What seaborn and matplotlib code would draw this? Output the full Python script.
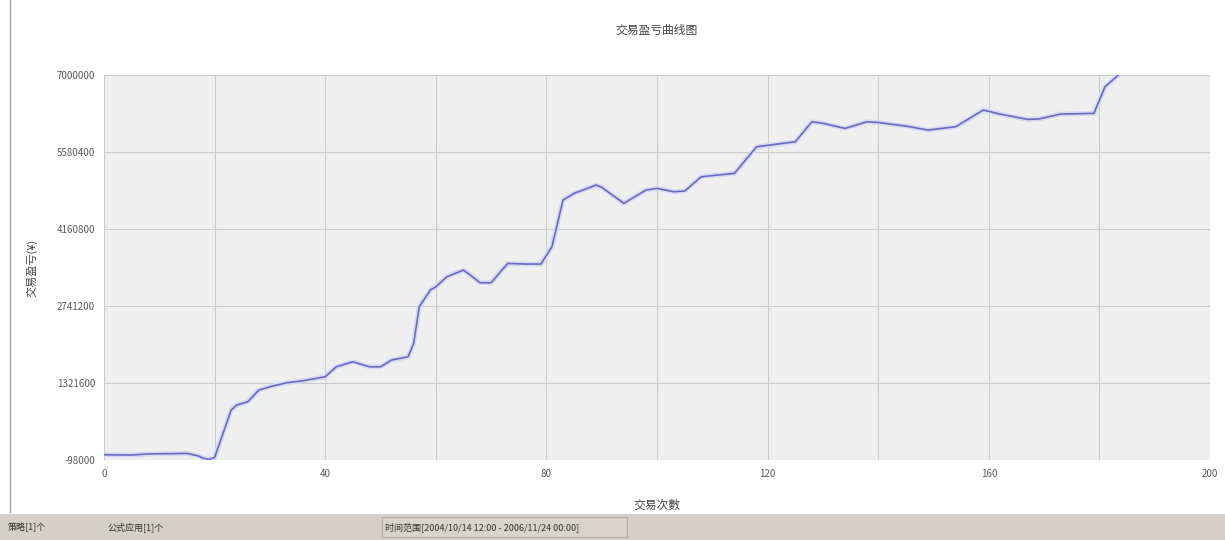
import matplotlib
matplotlib.use("Agg")
import matplotlib.pyplot as plt
import seaborn as sns
import pandas as pd

# Trade index and cumulative profit/loss
trade_no = [0, 5, 8, 15, 17, 18, 19, 20, 23, 24, 26, 28, 30, 33, 36, 40, 42, 45, 48,
            50, 52, 55, 56, 57, 59, 60, 62, 65, 67, 68, 70, 73, 76, 79, 81, 83, 85,
            89, 90, 94, 98, 100, 103, 105, 108, 114, 118, 125, 128, 130, 134, 138,
            140, 145, 149, 154, 159, 162, 167, 169, 173, 179, 181, 184]
profit = [0, -5000, 15000, 25000, -20000, -66000, -85000, -50000, 824000, 916000,
          977000, 1193000, 1253000, 1327000, 1364000, 1438000, 1622000, 1714000,
          1622000, 1622000, 1746000, 1807000, 2053000, 2728000, 3036000, 3097000,
          3282000, 3405000, 3252000, 3171000, 3171000, 3528000, 3516000, 3516000,
          3835000, 4696000, 4819000, 4972000, 4930000, 4635000, 4880000, 4911000,
          4849000, 4862000, 5125000, 5188000, 5678000, 5770000, 6139000, 6110000,
          6016000, 6139000, 6125000, 6060000, 5986000, 6047000, 6355000, 6281000,
          6183000, 6190000, 6281000, 6293000, 6785000, 7050000]

y_ticks = [-98000, 1321600, 2741200, 4160800, 5580400, 7000000]
x_ticks = [0, 40, 80, 120, 160, 200]

title = "交易盈亏曲线图"
x_label = "交易次數"
y_label = "交易盈亏(¥)"
status_items = ["策略[1]个", "公式应用[1]个", "时间范围[2004/10/14 12:00 - 2006/11/24 00:00]"]

df = pd.DataFrame({"trade": trade_no, "profit": profit})

sns.set_style("white")
plt.rcParams["font.family"] = ["Noto Sans CJK SC", "DejaVu Sans"]

fig = plt.figure(figsize=(12.25, 5.4), dpi=100)
ax = fig.add_axes([0.0849, 0.148, 0.9029, 0.713])
ax.set_facecolor("#efefef")

# soft halo under the curve, then the curve itself
sns.lineplot(data=df, x="trade", y="profit", ax=ax, color="#d8d8f4", linewidth=3.5)
sns.lineplot(data=df, x="trade", y="profit", ax=ax, color="#6a6ac4", linewidth=1.2)

ax.set_xlim(0, 200)
ax.set_ylim(-98000, 7000000)
ax.set_xticks(x_ticks)
ax.set_yticks(y_ticks)
ax.set_xticks(range(0, 201, 20), minor=True)
ax.set_yticklabels([str(v) for v in y_ticks])
ax.grid(True, which="both", color="#cbcbcb", linewidth=0.8)
ax.tick_params(axis="both", which="major", labelsize=7, colors="#5a5a5a", length=3)
ax.tick_params(axis="x", which="minor", length=0)
for s in ax.spines.values():
    s.set_visible(False)

ax.set_title(title, fontsize=8.5, color="#444444", pad=30)
ax.set_xlabel(x_label, fontsize=8.5, color="#444444", labelpad=14)
ax.set_ylabel(y_label, fontsize=8, color="#444444", labelpad=14)

# left panel border
fig.add_artist(plt.Line2D([10 / 1225, 10 / 1225], [28 / 540, 1.0], color="#a0a0a0", linewidth=1))

# status bar at the bottom
bar = fig.add_axes([0, 0, 1, 27 / 540])
bar.set_xlim(0, 1225)
bar.set_ylim(0, 27)
bar.set_facecolor("#d4d0c8")
bar.set_xticks([])
bar.set_yticks([])
for s in bar.spines.values():
    s.set_visible(False)
bar.axhline(27, color="#ffffff", linewidth=1.5)
bar.add_patch(plt.Rectangle((382, 3), 245, 20, facecolor="#d8d4cc", edgecolor="#b0aca4", linewidth=0.8))
bar.text(8, 13, status_items[0], fontsize=6.5, color="#333333", va="center")
bar.text(108, 13, status_items[1], fontsize=6.5, color="#333333", va="center")
bar.text(385, 13, status_items[2], fontsize=6.5, color="#333333", va="center")

fig.savefig("out.png", dpi=100)
